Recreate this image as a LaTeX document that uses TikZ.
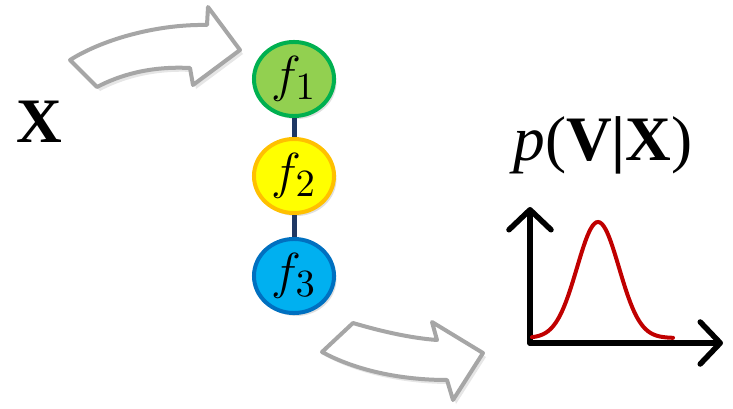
\documentclass[tikz,border=0pt]{standalone}
\usepackage{xcolor}
\usepackage{amsmath, amssymb}
\usepackage{fontspec}
\setmainfont{Liberation Serif}
\usepackage{tikz}
\usetikzlibrary{positioning, arrows.meta, calc, shapes.geometric, shadows}
\definecolor{fonegreen}{HTML}{92D050}
\definecolor{fonedraw}{HTML}{00B050}
\definecolor{ftwoyellow}{HTML}{FFFF00}
\definecolor{ftwodraw}{HTML}{FFC000}
\definecolor{fthreeblue}{HTML}{00B0F0}
\definecolor{fthreedraw}{HTML}{0070C0}
\definecolor{chainnavy}{HTML}{1F3864}
\definecolor{flowgray}{HTML}{A6A6A6}
\definecolor{curvered}{HTML}{C00000}

\begin{document}
\begin{tikzpicture}[x=0.01cm, y=-0.01cm,
      every node/.style={font=\fontsize{18}{21}\selectfont},
      fnode/.style={ellipse, minimum width=0.8cm, minimum height=0.74cm,
        inner sep=0pt, line width=0.04cm, font=\fontsize{15}{17}\selectfont,
        drop shadow={opacity=0.25, shadow xshift=0.025cm, shadow yshift=-0.03cm}},
      chain/.style={line width=0.05cm, color=chainnavy},
      flow/.style={draw=flowgray, fill=white, line width=0.04cm, line join=round,
        drop shadow={opacity=0.2, shadow xshift=0.03cm, shadow yshift=-0.04cm}},
      axis/.style={line width=0.055cm, line cap=round,
        -{Straight Barb[length=0.2cm, width=0.42cm, round]}}]

    \useasboundingbox (0,0) rectangle (733,409);

    \node (xin) at (39,122) {\textbf{X}};

    % chain of functions
    \node[fnode, draw=fonedraw, fill=fonegreen] (f1) at (294,79) {$f_1$};
    \node[fnode, draw=ftwodraw, fill=ftwoyellow] (f2) at (294,176) {$f_2$};
    \node[fnode, draw=fthreedraw, fill=fthreeblue] (f3) at (294,276) {$f_3$};
    \draw[chain] (f1.south) -- (f2.north);
    \draw[chain] (f2.south) -- (f3.north);

    % hollow arrows
    \path[flow] (70,60) .. controls (105,38) and (160,24) .. (207,25)
      -- (208,7) -- (240,50) -- (193,85) -- (190,68)
      .. controls (150,66) and (120,75) .. (97,87) -- cycle;
    \path[flow] (353,323) .. controls (380,331) and (410,338) .. (437,340)
      -- (432,322) -- (483,353) -- (453,400) -- (447,380)
      .. controls (400,380) and (355,370) .. (322,352) -- cycle;

    % output distribution
    \node (pout) at (603,145) {\textit{p}(\textbf{V}\textbf{|}\textbf{X})};
    \coordinate (o) at (530,343);
    \coordinate (ytip) at (530,207);
    \coordinate (xtip) at (723,343);
    \draw[axis] (o) -- (ytip);
    \draw[axis] (o) -- (xtip);
    \draw[curvered, line width=0.04cm, line cap=round]
      plot[domain=532:673, samples=80] (\x, {338-116*exp(-((\x-598)/21)^2/2)});
  \end{tikzpicture}
\end{document}
